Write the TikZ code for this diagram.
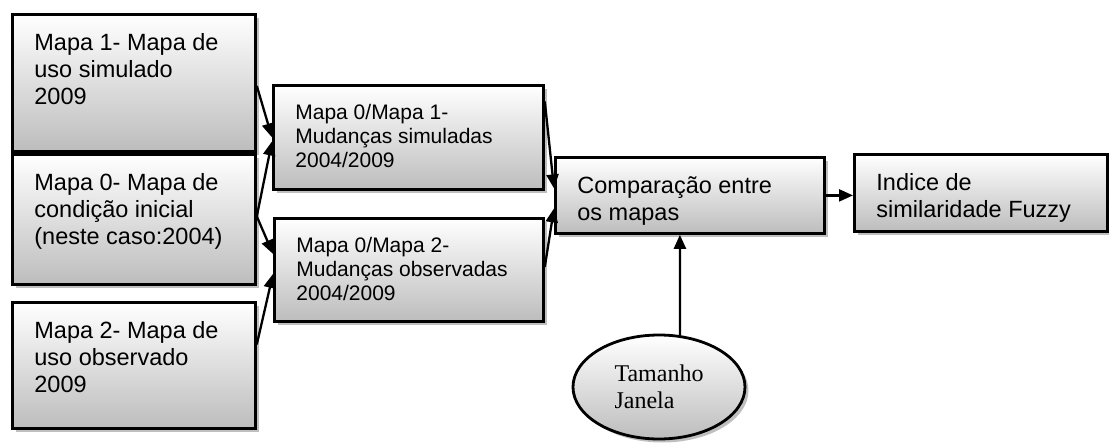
\documentclass[tikz,border=0pt]{standalone}
\usepackage{fontspec}
\setmainfont{Liberation Sans}
\newfontfamily\timesfont{Liberation Serif}
\usepackage{tikz}
\usetikzlibrary{arrows.meta,shadows,shapes.geometric}

% text block of a box, set at its top
\newcommand{\boxtxt}[3]{\parbox[c][#2pt][t]{#1pt}{\strut #3}}

\begin{document}
\begin{tikzpicture}[x=1pt, y=-1pt,
    mapbox/.style={draw, line width=2.8pt, anchor=north west, inner xsep=22pt, inner ysep=17pt,
        top color=white, bottom color=black!26,
        drop shadow={shadow xshift=3.5pt, shadow yshift=-3.5pt, fill=black!50},
        font=\fontsize{23.5}{27}\selectfont},
    chgbox/.style={mapbox, font=\fontsize{21}{24}\selectfont},
    arr/.style={-{Triangle[length=14pt,width=12pt]}, line width=2.3pt}]
                \useasboundingbox (0,0) rectangle (1109,442);
                % Draw the input maps
                \node[mapbox] (m1) at (11,13) {\boxtxt{199}{103}{Mapa 1- Mapa de\\uso simulado\\2009}};
                \node[mapbox] (m0) at (11,153) {\boxtxt{199}{96}{Mapa 0- Mapa de\\condição inicial\\(neste caso:2004)}};
                \node[mapbox] (m2) at (11,301) {\boxtxt{199}{92}{Mapa 2- Mapa de\\uso observado\\2009}};

                % Draw the change maps
                \node[chgbox] (sim) at (272,84) {\boxtxt{226}{70}{Mapa 0/Mapa 1-\\Mudanças simuladas\\2004/2009}};
                \node[chgbox] (obs) at (273,217) {\boxtxt{225}{69}{Mapa 0/Mapa 2-\\Mudanças observadas\\2004/2009}};

                % Comparison and result
                \node[mapbox] (cmp) at (554,156) {\boxtxt{225}{42}{Comparação entre\\os mapas}};
                \node[mapbox] (fuz) at (853,153) {\boxtxt{209}{43}{Indice de\\similaridade Fuzzy}};

                % Window size
                \node[ellipse, draw, line width=2.8pt, minimum width=172pt, minimum height=104pt,
                      top color=white, bottom color=black!26,
                      drop shadow={shadow xshift=3.5pt, shadow yshift=-3.5pt, fill=black!50},
                      align=left, font=\timesfont\fontsize{24}{26.5}\selectfont] (tam) at (659,387) {Tamanho\\Janela};

                % Connect everything
                \draw[arr] ([yshift=-3pt]m1.east) -- (sim.west);
                \draw[arr] ([yshift=3pt]m0.east) -- ([yshift=-4pt]sim.west);
                \draw[arr] ([yshift=3pt]m0.east) -- ([yshift=16pt]obs.west);
                \draw[arr] ([yshift=21pt]m2.east) -- ([yshift=-4pt]obs.west);
                \draw[arr] ([yshift=36pt]sim.east) -- ([yshift=7pt]cmp.west);
                \draw[arr] ([yshift=3pt]obs.east) -- ([yshift=-13pt]cmp.west);
                \draw[arr] (cmp.east) -- (cmp.east -| fuz.west);
                \draw[arr] ([xshift=21pt,yshift=-2pt]tam.north) -- ([xshift=-10pt]cmp.south);
\end{tikzpicture}
\end{document}
